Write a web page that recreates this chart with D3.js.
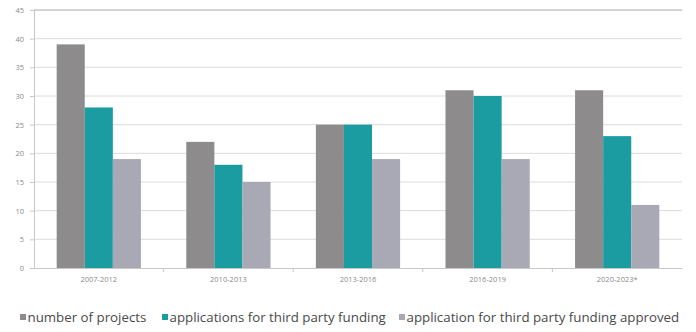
<!DOCTYPE html>
<html><head><meta charset="utf-8">
<script src="https://cdn.jsdelivr.net/npm/d3@7"></script>
<style>body{margin:0;background:#fff;}svg{display:block;}</style>
</head><body>
<script>
const categories = ["2007-2012","2010-2013","2013-2016","2016-2019","2020-2023*"];
const seriesNames = ["number of projects","applications for third party funding","application for third party funding approved"];
const projects = [39,22,25,31,31];
const applications = [28,18,25,30,23];
const approved = [19,15,19,19,11];
const yTicks = [0,5,10,15,20,25,30,35,40,45];
const colors = ["#8e8b8c","#1b9ca1","#a9a8b5"];
const series = [projects, applications, approved];

const W=696,H=332;
const m={left:34,right:14,top:10,bottom:64};
const svg=d3.select("body").append("svg").attr("width",W).attr("height",H);
const x=d3.scaleBand().domain(categories).range([m.left,W-m.right]).paddingInner(0.35).paddingOuter(0.175);
const xOuter=d3.scaleBand().domain(categories).range([m.left,W-m.right]);
const x1=d3.scaleBand().domain(d3.range(3)).range([0,x.bandwidth()]);
const y=d3.scaleLinear().domain([0,45]).range([H-m.bottom,m.top]);

// grid
svg.append("g").selectAll("line").data(yTicks.filter(d=>d>0)).join("line")
 .attr("x1",m.left).attr("x2",W-m.right).attr("y1",d=>y(d)).attr("y2",d=>y(d))
 .attr("stroke",d=>d===45?"#d4d4d4":"#dcdcdc").attr("stroke-width",d=>d===45?2:1);

// y axis
const ya=svg.append("g").attr("transform",`translate(${m.left},0)`)
 .call(d3.axisLeft(y).tickValues(yTicks).tickSize(4).tickPadding(6));
ya.select(".domain").attr("stroke","#c8c8c8");
ya.selectAll(".tick line").attr("stroke","#c8c8c8");
ya.selectAll("text").attr("fill","#8a8a8a").style("font-family","Open Sans").style("font-size","7.5px");

// bars
const g=svg.append("g").selectAll("g").data(categories).join("g")
 .attr("transform",d=>`translate(${x(d)},0)`);
g.selectAll("rect").data((c,i)=>series.map((s,k)=>({k,v:s[i]}))).join("rect")
 .attr("x",d=>x1(d.k)).attr("width",x1.bandwidth())
 .attr("y",d=>y(d.v)).attr("height",d=>y(0)-y(d.v)).attr("fill",d=>colors[d.k]);

// x axis
const xa=svg.append("g").attr("transform",`translate(0,${y(0)})`)
 .call(d3.axisBottom(xOuter).tickSize(0).tickPadding(9));
xa.select(".domain").attr("stroke","#c8c8c8");
xa.selectAll("text").attr("fill","#8a8a8a").style("font-family","Open Sans").style("font-size","7.5px");
svg.append("g").selectAll("line").data(categories.slice(1)).join("line")
 .attr("x1",d=>xOuter(d)).attr("x2",d=>xOuter(d)).attr("y1",y(0)).attr("y2",y(0)+4).attr("stroke","#c8c8c8");

// legend
const legendX=[20,162,399];
const lg=svg.append("g").selectAll("g").data(seriesNames).join("g")
 .attr("transform",(d,i)=>`translate(${legendX[i]},322)`);
lg.append("rect").attr("x",0).attr("y",-8).attr("width",6).attr("height",6).attr("fill",(d,i)=>colors[i]);
lg.append("text").attr("x",7.5).attr("y",0).text(d=>d)
 .attr("fill","#4a4a4a").style("font-family","Open Sans").style("font-size","13.3px");
</script>
</body></html>
